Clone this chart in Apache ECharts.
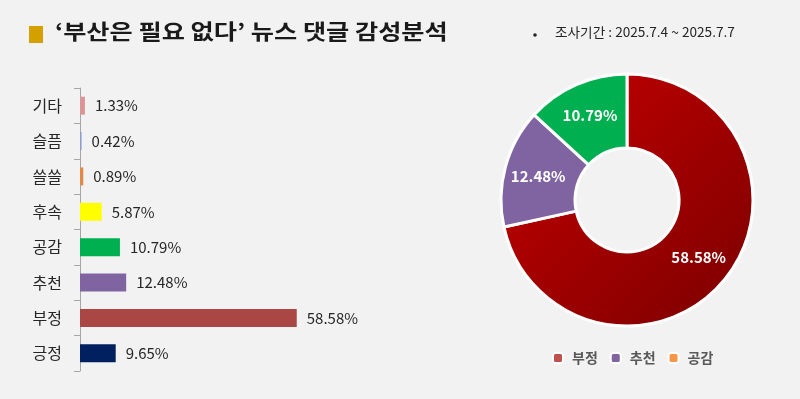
<!DOCTYPE html>
<html>
<head>
<meta charset="utf-8">
<script src="https://cdn.jsdelivr.net/npm/echarts@6/dist/echarts.min.js"></script>
<style>
html,body{margin:0;padding:0;background:#F2F2F2;}
#c{width:800px;height:399px;}
</style>
</head>
<body>
<div id="c"></div>
<script>
const titleText = '‘부산은 필요 없다’ 뉴스 댓글 감성분석';
const periodText = '조사기간 : 2025.7.4 ~ 2025.7.7';

const barCategories = ['긍정', '부정', '추천', '공감', '후속', '쓸쓸', '슬픔', '기타'];
const barValues = [9.65, 58.58, 12.48, 10.79, 5.87, 0.89, 0.42, 1.33];
const barColors = ['#002060', '#AA4644', '#8064A2', '#00B050', '#FFFF00', '#E08A4A', '#8E9BD0', '#D99694'];

const pieNames = ['부정', '추천', '공감'];
const pieValues = [58.58, 12.48, 10.79];
const legendColors = ['#C0504D', '#8064A2', '#F79646'];

const FONT = '"Noto Sans CJK KR", "Noto Sans", sans-serif';

const pieColors = [
  new echarts.graphic.LinearGradient(0, 0, 1, 1, [
    {offset: 0, color: '#C80000'},
    {offset: 1, color: '#7A0000'}
  ]),
  '#8064A2',
  '#00B050'
];

const chart = echarts.init(document.getElementById('c'), null, {renderer: 'canvas'});
chart.setOption({
  backgroundColor: '#F2F2F2',
  animation: false,
  textStyle: {fontFamily: FONT},
  graphic: [
    {type: 'rect', shape: {x: 29, y: 26, width: 14, height: 17}, style: {fill: '#D4A000'}},
    {type: 'text', x: 55, y: 21, scaleX: 1.2, style: {text: titleText, font: 'bold 21px ' + FONT, fill: '#1A1A1A'}},
    {type: 'circle', shape: {cx: 535, cy: 35, r: 1.8}, style: {fill: '#262626'}},
    {type: 'text', x: 555, y: 26, scaleX: 1.05, style: {text: periodText, font: '13px ' + FONT, fill: '#262626'}}
  ],
  grid: {left: 80, top: 88, width: 259, height: 283, containLabel: false},
  xAxis: {type: 'value', min: 0, max: 70, show: false},
  yAxis: {
    type: 'category',
    data: barCategories,
    axisLine: {show: true, lineStyle: {color: '#A6A6A6', width: 1}},
    axisTick: {show: true, length: 6, lineStyle: {color: '#A6A6A6'}},
    axisLabel: {fontSize: 16, color: '#262626', margin: 18, fontFamily: FONT}
  },
  legend: {
    data: pieNames.map((n, i) => ({name: n, itemStyle: {color: legendColors[i]}})),
    left: 547,
    top: 346,
    itemWidth: 10,
    itemHeight: 10,
    itemGap: 12,
    textStyle: {fontSize: 14, fontWeight: 'bold', color: '#595959', fontFamily: FONT, padding: [0, 0, 0, 4]}
  },
  series: [
    {
      type: 'bar',
      barWidth: 18,
      data: barValues.map((v, i) => ({value: v, itemStyle: {color: barColors[i]}})),
      label: {
        show: true,
        position: 'right',
        distance: 10,
        formatter: p => p.value.toFixed(2) + '%',
        fontSize: 15,
        color: '#262626',
        fontFamily: FONT
      }
    },
    {
      type: 'pie',
      center: [627, 200],
      radius: [52, 126],
      startAngle: 90,
      clockwise: true,
      itemStyle: {borderColor: '#FFFFFF', borderWidth: 3},
      label: {
        show: true,
        position: 'inside',
        formatter: p => p.value.toFixed(2) + '%',
        fontSize: 15,
        fontWeight: 'bold',
        color: '#FFFFFF',
        fontFamily: FONT
      },
      labelLine: {show: false},
      emphasis: {disabled: true},
      data: pieNames.map((n, i) => ({name: n, value: pieValues[i], itemStyle: {color: pieColors[i]}}))
    }
  ]
});
</script>
</body>
</html>
